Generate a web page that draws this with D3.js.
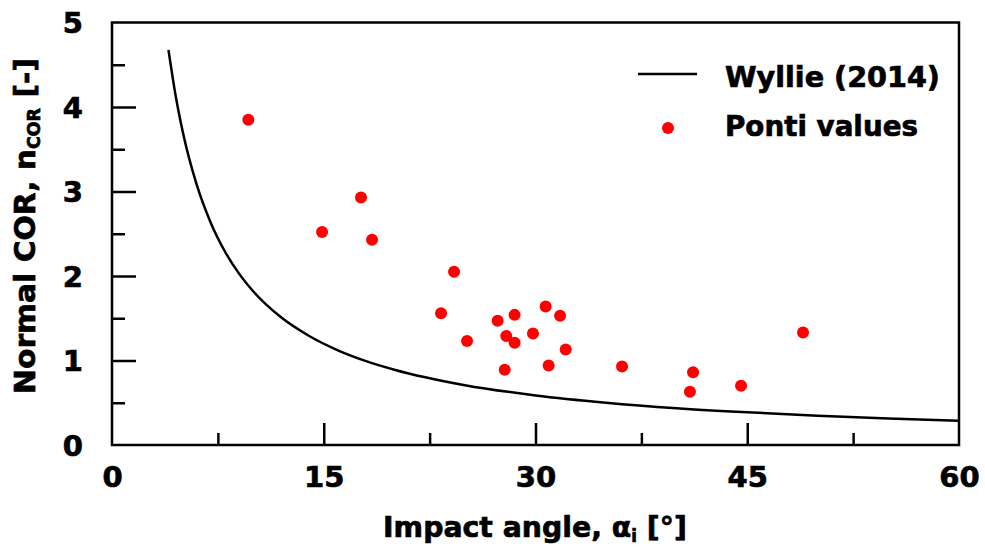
<!DOCTYPE html>
<html><head><meta charset="utf-8">
<script src="https://cdn.jsdelivr.net/npm/d3@7"></script>
<style>
html,body{margin:0;padding:0;background:#fff;}
text{font-family:"DejaVu Sans",Verdana,sans-serif;font-weight:bold;fill:#000;stroke:#000;stroke-width:0.7px;}
</style></head>
<body>
<svg id="chart" width="985" height="552"></svg>
<script>
// ---- data ----
const xTicks = [0, 15, 30, 45, 60];
const xMinor = [7.5, 22.5, 37.5, 52.5];
const yTicks = [0, 1, 2, 3, 4, 5];
const yMinor = [0.5, 1.5, 2.5, 3.5, 4.5];
const wyllieAngle = [4, 4.5, 5, 6, 7, 8, 9, 10, 12, 14, 16, 18, 20, 25, 30, 35, 40, 45, 50, 55, 60];
const wyllieCOR   = [4.676, 4.142, 3.716, 3.080, 2.628, 2.290, 2.028, 1.820, 1.508, 1.287, 1.121, 0.993, 0.891, 0.708, 0.587, 0.501, 0.436, 0.387, 0.347, 0.314, 0.287];
const pontiAngle = [9.66, 14.88, 17.64, 18.42, 24.23, 23.31, 25.15, 27.32, 28.52, 27.93, 28.52, 27.82, 29.82, 30.72, 31.74, 32.14, 30.93, 36.13, 41.16, 40.94, 44.56, 48.95];
const pontiCOR   = [3.85, 2.52, 2.93, 2.43, 2.05, 1.56, 1.23, 1.47, 1.54, 1.29, 1.21, 0.89, 1.32, 1.64, 1.53, 1.13, 0.94, 0.93, 0.86, 0.63, 0.70, 1.33];
const legendLabels = ["Wyllie (2014)", "Ponti values"];

// ---- layout ----
const L = 112, R = 959, T = 22.5, B = 445;
const svg = d3.select("#chart");
const x = d3.scaleLinear().domain([0, 60]).range([L, R]);
const y = d3.scaleLinear().domain([0, 5]).range([B, T]);
const FS = 29;

function fitWidth(sel, w) {
  const bb = sel.node().getBBox();
  const cx = bb.x + bb.width / 2;
  const s = w / bb.width;
  sel.attr("transform", (sel.attr("transform") || "") + ` translate(${cx},0) scale(${s},1) translate(${-cx},0)`);
}

// minor ticks
const gxm = svg.append("g").attr("transform", `translate(0,${B})`)
  .call(d3.axisBottom(x).tickValues(xMinor).tickSizeInner(-12).tickSizeOuter(0).tickFormat(""));
const gym = svg.append("g").attr("transform", `translate(${L},0)`)
  .call(d3.axisLeft(y).tickValues(yMinor).tickSizeInner(-13).tickSizeOuter(0).tickFormat(""));
// major ticks
const gx = svg.append("g").attr("transform", `translate(0,${B})`)
  .call(d3.axisBottom(x).tickValues(xTicks).tickSizeInner(-22).tickSizeOuter(0).tickPadding(21).tickFormat(d3.format("d")));
const gy = svg.append("g").attr("transform", `translate(${L},0)`)
  .call(d3.axisLeft(y).tickValues(yTicks).tickSizeInner(-24).tickSizeOuter(0).tickPadding(29).tickFormat(d3.format("d")));

[gxm, gym, gx, gy].forEach(g => {
  g.selectAll("path").remove();
  g.selectAll("line").attr("stroke", "#000").attr("stroke-width", 2.5);
  g.selectAll("text").style("font-size", FS + "px").style("font-family", '"DejaVu Sans",Verdana,sans-serif')
    .style("font-weight", "bold").attr("fill", "#000").attr("stroke", "#000").attr("stroke-width", 0.7);
});
gx.selectAll("text").attr("dy", "0.71em");
gy.selectAll("text").attr("dy", "0.36em");
gx.selectAll(".tick").filter(d => d === 0 || d === 60).select("line").remove();
gy.selectAll(".tick").filter(d => d === 0 || d === 5).select("line").remove();

// frame
svg.append("rect").attr("x", L).attr("y", T).attr("width", R - L).attr("height", B - T)
  .attr("fill", "none").attr("stroke", "#000").attr("stroke-width", 2.5);

// Wyllie curve
const pts = wyllieAngle.map((a, i) => [a, wyllieCOR[i]]);
svg.append("path").datum(pts)
  .attr("d", d3.line().x(d => x(d[0])).y(d => y(d[1])).curve(d3.curveMonotoneX))
  .attr("fill", "none").attr("stroke", "#000").attr("stroke-width", 2.5);

// Ponti points
svg.append("g").selectAll("circle").data(pontiAngle.map((a, i) => [a, pontiCOR[i]]))
  .join("circle").attr("cx", d => x(d[0])).attr("cy", d => y(d[1])).attr("r", 6).attr("fill", "#ff0000");

// legend
svg.append("line").attr("x1", 638).attr("x2", 697).attr("y1", 74).attr("y2", 74)
  .attr("stroke", "#000").attr("stroke-width", 2.5);
svg.append("circle").attr("cx", 668).attr("cy", 128).attr("r", 6).attr("fill", "#ff0000");
const lt1 = svg.append("text").attr("x", 725).attr("y", 87).style("font-size", FS + "px").text(legendLabels[0]);
const lt2 = svg.append("text").attr("x", 725).attr("y", 136).style("font-size", FS + "px").text(legendLabels[1]);
[lt1, lt2].forEach((t, i) => {
  const w = [215, 193][i];
  const bb = t.node().getBBox();
  const s = w / bb.width;
  t.attr("transform", `translate(725,0) scale(${s},1) translate(-725,0)`);
});

// x title
const xt = svg.append("text").attr("x", 535).attr("y", 537).attr("text-anchor", "middle").style("font-size", FS + "px");
xt.append("tspan").text("Impact angle, α");
xt.append("tspan").text("i").style("font-size", "17px").attr("dy", 5);
xt.append("tspan").text(" [°]").attr("dy", -5);
fitWidth(xt, 304);

// y title
const yg = svg.append("g").attr("transform", "translate(35,226) rotate(-90)");
const yt = yg.append("text").attr("x", 0).attr("y", 0).attr("text-anchor", "middle").style("font-size", FS + "px");
yt.append("tspan").text("Normal COR, n");
yt.append("tspan").text("COR").style("font-size", "17px").attr("dy", 5);
yt.append("tspan").text(" [-]").attr("dy", -5);
fitWidth(yt, 336);
</script>
</body></html>
